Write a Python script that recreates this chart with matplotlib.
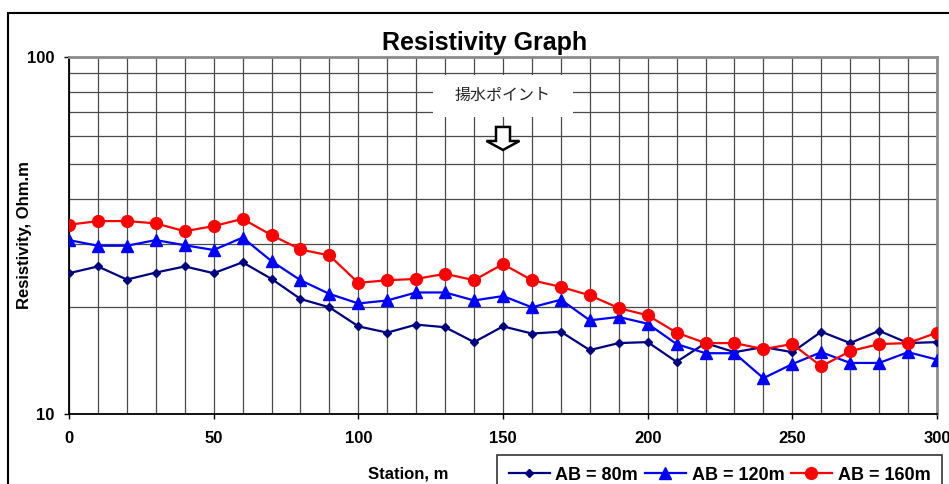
import numpy as np
import matplotlib
matplotlib.use("Agg")
import matplotlib.pyplot as plt
from matplotlib.ticker import LogLocator, NullFormatter, FixedLocator, FixedFormatter
from matplotlib.patches import Rectangle, Polygon
from matplotlib.transforms import ScaledTranslation

plt.rcParams['font.family'] = ['Liberation Sans', 'DejaVu Sans']

# station positions (m)
station = list(range(0, 301, 10))

# apparent resistivity (Ohm.m)
ab80 = [24.8, 25.9, 23.8, 24.9, 25.9, 24.8, 26.6, 23.9, 21.0, 19.9,
        17.6, 16.9, 17.8, 17.5, 15.9, 17.6, 16.8, 17.0, 15.1, 15.8,
        15.9, 14.0, 15.8, 14.9, 15.4, 14.9, 17.0, 15.8, 17.1, 15.8, 15.9]
ab120 = [30.7, 29.6, 29.6, 30.7, 29.7, 28.8, 31.2, 26.8, 23.7, 21.7,
         20.4, 20.8, 21.9, 21.9, 20.8, 21.4, 19.9, 20.9, 18.3, 18.7,
         17.9, 15.7, 14.8, 14.8, 12.6, 13.8, 14.9, 13.9, 13.9, 14.9, 14.2]
ab160 = [33.9, 34.7, 34.7, 34.2, 32.5, 33.6, 35.2, 31.7, 28.9, 27.8,
         23.3, 23.7, 23.9, 24.7, 23.7, 26.3, 23.7, 22.7, 21.5, 19.8,
         18.9, 16.9, 15.8, 15.8, 15.2, 15.7, 13.6, 15.0, 15.7, 15.8, 16.9]

series_labels = ['AB = 80m', 'AB = 120m', 'AB = 160m']
x_ticks = [0, 50, 100, 150, 200, 250, 300]
y_ticks = [10, 100]
pump_station = 150

fig = plt.figure(figsize=(9.49, 4.84), dpi=100)
ax = fig.add_axes([69/949, 1-414/484, 868/949, 357/484])

ax.plot(station, ab80, color='#000080', lw=1.6, marker='D', ms=4, label=series_labels[0], zorder=3)
ax.plot(station, ab120, color='#0000ff', lw=1.6, marker='^', ms=8, label=series_labels[1], zorder=4)
ax.plot(station, ab160, color='#ff0000', lw=1.6, marker='o', ms=8.5, label=series_labels[2], zorder=5)

ax.set_yscale('log')
ax.set_ylim(10, 100)
ax.set_xlim(0, 300)

ax.xaxis.set_major_locator(FixedLocator(x_ticks))
ax.xaxis.set_minor_locator(FixedLocator(station))
ax.yaxis.set_major_locator(FixedLocator(y_ticks))
ax.yaxis.set_major_formatter(FixedFormatter([str(v) for v in y_ticks]))
ax.yaxis.set_minor_locator(LogLocator(base=10, subs=np.arange(2, 10)))
ax.yaxis.set_minor_formatter(NullFormatter())

ax.grid(which='both', color='#4a4a4a', lw=0.9)
ax.tick_params(which='minor', length=0)
ax.tick_params(which='major', direction='out', length=3.5, width=1, color='black')
ax.tick_params(axis='x', pad=9)
ax.tick_params(axis='y', pad=7)
for lab in ax.get_xticklabels() + ax.get_yticklabels():
    lab.set_fontweight('bold')
    lab.set_fontsize(12)

for s in ['left', 'bottom']:
    ax.spines[s].set_color('black')
    ax.spines[s].set_linewidth(1.3)
for s in ['top', 'right']:
    ax.spines[s].set_color('#8c8c8c')
    ax.spines[s].set_linewidth(2)

# pumping point label box and arrow
ax.add_patch(Rectangle((pump_station - 24.2, 67.9), 48.4, 89.1 - 67.9,
                       fc='white', ec='none', zorder=2.5))
ax.text(pump_station, 77.8, '揚水ポイント', ha='center', va='center', fontsize=11.5,
        color='#222222', family=['Noto Sans CJK JP', 'DejaVu Sans'], zorder=6)
arrow_px = np.array([(0, 0), (16.5, 9), (7, 9), (7, 23), (-7, 23), (-7, 9), (-16.5, 9)]) / 100.0
arrow_tr = fig.dpi_scale_trans + ScaledTranslation(pump_station, 54.9, ax.transData)
ax.add_patch(Polygon(arrow_px, closed=True, fc='white', ec='black', lw=1.8,
                     transform=arrow_tr, zorder=6, joinstyle='miter'))

fig.text(485/949, 1-43/484, 'Resistivity Graph', ha='center', va='center',
         fontsize=18, fontweight='bold')
fig.text(408/949, 1-474/484, 'Station, m', ha='center', va='center',
         fontsize=12, fontweight='bold')
fig.text(24.5/949, 1-235/484, 'Resistivity, Ohm.m', ha='center', va='center',
         rotation=90, fontsize=12, fontweight='bold')

leg = fig.legend(loc='upper right', bbox_to_anchor=(942/949, 1-455/484), ncol=3,
                 prop={'weight': 'bold', 'size': 13}, frameon=True, fancybox=False,
                 edgecolor='black', handlelength=2.3, columnspacing=0.35,
                 handletextpad=0.3, borderpad=0.65, borderaxespad=0)
leg.get_frame().set_linewidth(1.2)

fig.patches.append(Rectangle((8/949, -0.5), 1.5, 0.5 + 1-13/484, transform=fig.transFigure,
                             fill=False, ec='black', lw=1.5))

fig.savefig('out.png', dpi=100)
